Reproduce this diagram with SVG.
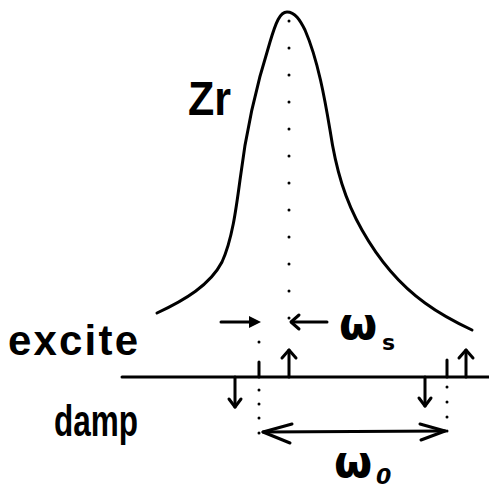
<svg xmlns="http://www.w3.org/2000/svg" width="489" height="490" viewBox="0 0 489 490">
<style>
.ln{fill:none;stroke:#000;stroke-width:3;stroke-linecap:round;stroke-linejoin:round}
.dot{fill:#000}
.lbl{font-family:"Liberation Sans",Arial,sans-serif;font-weight:bold;fill:#000}
.gr{font-family:"DejaVu Sans",sans-serif;font-weight:bold;fill:#000}
</style>
<rect width="489" height="490" fill="#fff"/>
<g id="curve">
<path class="ln" d="M157,313 C185,300 210,285 222,262 C232,240 236,210 240,180 C246,130 258,80 270,42 C276,22 280,12 287,12 C295,12 300,20 305,30 C318,60 325,100 330,130 C336,170 345,200 362,230 C380,262 400,285 425,303 C440,314 455,322 472,330"/>
</g>
<g id="labels">
<text class="lbl" x="188" y="115" font-size="48" textLength="43" lengthAdjust="spacingAndGlyphs">Zr</text>
<text class="lbl" x="8" y="355" font-size="42" textLength="130" lengthAdjust="spacing">excite</text>
<text class="lbl" x="54" y="436" font-size="44" textLength="84" lengthAdjust="spacingAndGlyphs">damp</text>
<text class="gr" x="339" y="339" font-size="44">ω</text>
<text class="gr" x="382" y="350" font-size="22">s</text>
<text class="gr" x="334" y="477" font-size="44">ω</text>
<text class="gr" x="376" y="484" font-size="22" font-style="italic">0</text>
</g>
<g id="connectors">
<line class="ln" x1="122" y1="377" x2="489" y2="377"/>
<line x1="289" y1="21" x2="289" y2="345" stroke="#000" stroke-width="3" stroke-linecap="round" stroke-dasharray="0 27"/>
<g class="dot">
<circle cx="259" cy="342" r="1.5"/>
<circle cx="259" cy="390" r="1.5"/><circle cx="259" cy="404" r="1.5"/><circle cx="259" cy="418" r="1.5"/><circle cx="259" cy="433" r="1.5"/>
<circle cx="447" cy="387" r="1.5"/><circle cx="447" cy="402" r="1.5"/><circle cx="447" cy="417" r="1.5"/><circle cx="447" cy="431" r="1.5"/>
</g>
<line class="ln" x1="221" y1="322" x2="252" y2="322"/>
<polygon points="261,322 249,316 249,328" fill="#000"/>
<line class="ln" x1="292" y1="322" x2="327" y2="322"/>
<polyline class="ln" points="299,315 291,322 299,329"/>
<line class="ln" x1="259" y1="362" x2="259" y2="377"/>
<line class="ln" x1="447" y1="360" x2="447" y2="377"/>
<line class="ln" x1="289" y1="377" x2="289" y2="350"/>
<polyline class="ln" points="282,358 289,350 296,358"/>
<line class="ln" x1="466" y1="377" x2="466" y2="350"/>
<polyline class="ln" points="459,358 466,350 473,358"/>
<line class="ln" x1="235" y1="377" x2="235" y2="407"/>
<polyline class="ln" points="229,399 235,407 241,399"/>
<line class="ln" x1="425" y1="377" x2="425" y2="406"/>
<polyline class="ln" points="419,398 425,406 431,398"/>
<line class="ln" x1="263" y1="432" x2="445" y2="431"/>
<polyline class="ln" points="292,424 263,432 290,443"/>
<polyline class="ln" points="420,424 445,431 421,440"/>
</g>
</svg>
